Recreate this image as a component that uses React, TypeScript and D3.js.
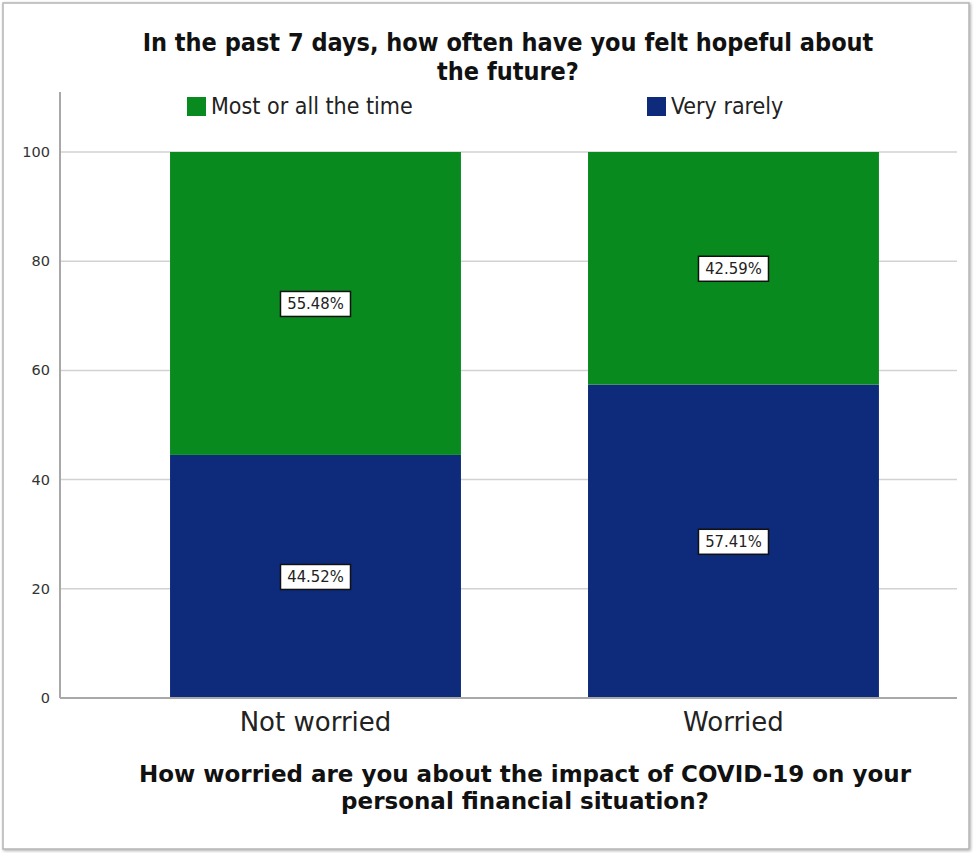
import React from "react";
import * as d3 from "d3";

const categories = ["Not worried", "Worried"];
const seriesNames = ["Very rarely", "Most or all the time"];
const veryRarely = [44.52, 57.41];
const mostOrAll = [55.48, 42.59];
const yTicks = [0, 20, 40, 60, 80, 100];
const titleLines = ["In the past 7 days, how often have you felt hopeful about", "the future?"];
const xTitleLines = ["How worried are you about the impact of COVID-19 on your", "personal financial situation?"];

const COLORS: Record<string, string> = {
  "Very rarely": "#0d2a7b",
  "Most or all the time": "#088a1f",
};

export default function App() {
  const W = 975, H = 853;
  const left = 60, right = 957, bottom = 698;
  const y = d3.scaleLinear().domain([0, 100]).range([bottom, 152]);
  const yTop = y(111);
  const x = d3.scaleBand<string>().domain(categories).range([left, right]).paddingInner(0.304).paddingOuter(0.225).align(0.585);

  const rows = categories.map((c, i) => ({ cat: c, "Very rarely": veryRarely[i], "Most or all the time": mostOrAll[i] }));
  const stack = d3.stack<any>().keys(seriesNames)(rows);

  const condensed = "'Liberation Sans Narrow', 'DejaVu Sans Condensed', 'Roboto Condensed', sans-serif";
  const sans = "'DejaVu Sans', 'Open Sans', sans-serif";

  return (
    <div style={{ position: "absolute", left: 0, top: 0 }}>
      <svg width={W} height={H} style={{ display: "block" }}>
        <defs>
          <filter id="sh" x="-5%" y="-5%" width="110%" height="110%">
            <feDropShadow dx="1" dy="1" stdDeviation="1.5" floodColor="#000" floodOpacity="0.35" />
          </filter>
        </defs>
        <rect x={0} y={0} width={W} height={H} fill="#fff" />
        <rect x={3} y={3} width={966} height={846} fill="#fff" stroke="#b5b5b5" strokeWidth={1.5} filter="url(#sh)" />
        {/* title */}
        <text textAnchor="middle" fontFamily={condensed} fontWeight="bold" fontSize={25} fill="#111">
          {titleLines.map((t, i) => (
            <tspan key={i} x={508} y={51 + i * 29}>{t}</tspan>
          ))}
        </text>
        {/* gridlines */}
        {yTicks.map((t) => (
          <g key={t}>
            {t > 0 && <line x1={left} x2={right} y1={y(t)} y2={y(t)} stroke="#d2d2d2" strokeWidth={1.5} />}
            <text x={50} y={y(t) + 5} textAnchor="end" fontFamily={sans} fontSize={14.5} fill="#333">{t}</text>
          </g>
        ))}
        {/* bars */}
        {stack.map((s) => (
          <g key={s.key} fill={COLORS[s.key]}>
            {s.map((d, i) => (
              <rect key={i} x={x(categories[i])} width={x.bandwidth()} y={y(d[1])} height={y(d[0]) - y(d[1])} />
            ))}
          </g>
        ))}
        {/* axes */}
        <line x1={left} x2={left} y1={yTop} y2={bottom} stroke="#a8a8a8" strokeWidth={2} />
        <line x1={left} x2={right} y1={bottom} y2={bottom} stroke="#a8a8a8" strokeWidth={2} />
        {/* data labels */}
        {stack.map((s) => s.map((d, i) => {
          const cx = (x(categories[i]) as number) + x.bandwidth() / 2;
          const cy = y((d[0] + d[1]) / 2);
          const label = `${(d[1] - d[0]).toFixed(2)}%`;
          return (
            <g key={s.key + i}>
              <rect x={cx - 35} y={cy - 12} width={70} height={25} fill="#fff" stroke="#111" strokeWidth={1.5} />
              <text x={cx} y={cy + 6} textAnchor="middle" fontFamily={condensed} fontSize={16.5} fill="#222">{label}</text>
            </g>
          );
        }))}
        {/* legend */}
        {[["Most or all the time", 187], ["Very rarely", 647]].map(([k, lx]) => (
          <g key={k as string}>
            <rect x={lx as number} y={97} width={19} height={19} fill={COLORS[k as string]} />
            <text x={(lx as number) + 24} y={114} fontFamily={condensed} fontSize={23} fill="#222">{k}</text>
          </g>
        ))}
        {/* category labels */}
        {categories.map((c) => (
          <text key={c} x={(x(c) as number) + x.bandwidth() / 2} y={731} textAnchor="middle" fontFamily={sans} fontSize={26} fill="#222">{c}</text>
        ))}
        <text textAnchor="middle" fontFamily={sans} fontWeight="bold" fontSize={23} fill="#111">
          {xTitleLines.map((t, i) => (
            <tspan key={i} x={525} y={782 + i * 27}>{t}</tspan>
          ))}
        </text>
      </svg>
    </div>
  );
}
